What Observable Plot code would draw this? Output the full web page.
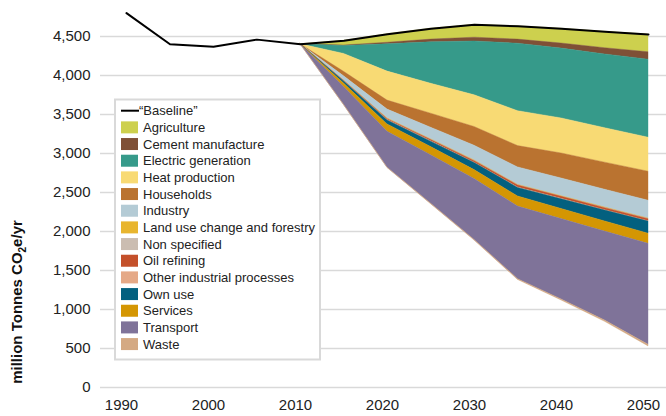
<!DOCTYPE html>
<html><head><meta charset="utf-8">
<script src="https://cdn.jsdelivr.net/npm/d3@7"></script>
<script src="https://cdn.jsdelivr.net/npm/@observablehq/plot@0.6"></script>
<style>body{margin:0;background:#fff;}#chart{position:relative;width:666px;height:416px;}</style>
</head><body><div id="chart"></div>
<script>
// ---- data ----
const baselineYears  = [1990, 1995, 2000, 2005, 2010, 2015, 2020, 2025, 2030, 2035, 2040, 2045, 2050];
const baselineValues = [4800, 4400, 4370, 4460, 4400, 4445, 4530, 4600, 4650, 4630, 4600, 4560, 4525];

const wedgeYears = [2010, 2015, 2020, 2025, 2030, 2035, 2040, 2045, 2050];
const sectors = ["Agriculture","Cement manufacture","Electric generation","Heat production","Households","Industry","Land use change and forestry","Non specified","Oil refining","Other industrial processes","Own use","Services","Transport","Waste"];
const sectorColors = ["#cdd04e","#7f5036","#369a8a","#f8da74","#ba7330","#b4cbd5","#e8b52e","#cbbdb1","#c4502a","#e5a987","#03607f","#d49603","#7f7399","#d4a983"];

const agriculture   = [0,  60, 110, 140, 165, 170, 190, 210, 227];
const cement        = [0,   8,  20,  35,  48,  52,  65,  80,  95];
const electric      = [0, 100, 350, 530, 690, 865, 895, 945, 1000];
const heat          = [0, 230, 372, 384, 407, 448, 449, 442, 436];
const households    = [0,  58, 115, 180, 240, 273, 321, 347, 372];
const industry      = [0,  55, 115, 150, 190, 225, 228, 229, 230];
const landUse       = [0,   2,   5,   5,   5,   5,   5,   5,   5];
const nonSpecified  = [0,   1,   3,   3,   3,   3,   3,   3,   3];
const oilRefining   = [0,   6,  12,  16,  20,  25,  25,  25,  25];
const otherIndustry = [0,   2,   5,   5,   5,   5,   5,   5,   5];
const ownUse        = [0,  25,  50,  70,  90, 110, 125, 140, 155];
const services      = [0,  45,  95, 105, 115, 130, 130, 130, 130];
const transport     = [0, 230, 460, 620, 780, 930, 1030, 1140, 1295];
const waste         = [0,   3,   5,   7,   8,  10,  13,  17,  20];

const sectorValues = [agriculture, cement, electric, heat, households, industry, landUse, nonSpecified, oilRefining, otherIndustry, ownUse, services, transport, waste];

const yTicks = [0, 500, 1000, 1500, 2000, 2500, 3000, 3500, 4000, 4500];
const xTicks = [1990, 2000, 2010, 2020, 2030, 2040, 2050];

// ---- build stacked bands hanging down from the baseline ----
const baseline = baselineYears.map((year, i) => ({year, value: baselineValues[i]}));
const rows = [];
wedgeYears.forEach((year, i) => {
  let top = baselineValues[baselineYears.indexOf(year)];
  sectors.forEach((sector, s) => {
    const v = sectorValues[s][i];
    rows.push({year, sector, y1: top - v, y2: top});
    top -= v;
  });
});

const font = "'Liberation Sans', Arial, Helvetica, sans-serif";

const chart = Plot.plot({
  width: 666,
  height: 416,
  marginLeft: 100,
  marginRight: 0,
  marginTop: 0,
  marginBottom: 29,
  style: {fontFamily: font, fontSize: "15px", color: "#222", background: "white"},
  x: {domain: [1990, 2050], range: [126, 648]},
  y: {domain: [0, 4500], range: [387, 36]},
  color: {domain: sectors, range: sectorColors},
  marks: [
    Plot.gridY(yTicks, {stroke: "#d9d9d9", strokeOpacity: 1, strokeWidth: 1.6}),
    Plot.areaY(rows, {x: "year", y1: "y1", y2: "y2", z: "sector", fill: "sector", stroke: "sector", strokeWidth: 0.4}),
    Plot.line(baseline, {x: "year", y: "value", stroke: "black", strokeWidth: 2}),
    Plot.axisY(yTicks, {tickSize: 0, tickPadding: 10, tickFormat: d3.format(","), fontSize: 15, label: null}),
    Plot.axisX(xTicks, {tickSize: 0, tickPadding: 12, tickFormat: d => String(d), fontSize: 15, dx: -5, label: null})
  ]
});
document.getElementById("chart").appendChild(chart);

const svg = d3.select(chart);
// y-axis title
const title = svg.append("text")
  .attr("transform", "translate(22,302) rotate(-90)")
  .attr("text-anchor", "middle")
  .attr("font-family", font)
  .attr("font-weight", "bold")
  .attr("font-size", 15)
  .attr("fill", "#111");
title.append("tspan").text("million Tonnes CO");
title.append("tspan").attr("font-size", 10).attr("dy", 4).text("2");
title.append("tspan").attr("dy", -4).text("e/yr");

// legend
const lg = svg.append("g").attr("font-family", font).attr("font-size", 13).attr("fill", "#222").attr("text-anchor", "start");
lg.append("rect").attr("x", 115).attr("y", 99.5).attr("width", 205).attr("height", 260)
  .attr("fill", "white").attr("stroke", "#d9d9d9").attr("stroke-width", 2);
const rowH = 16.67, firstY = 110.7;
lg.append("line").attr("x1", 121).attr("x2", 139).attr("y1", firstY).attr("y2", firstY)
  .attr("stroke", "black").attr("stroke-width", 2);
lg.append("text").attr("x", 139).attr("y", firstY).attr("dy", "0.35em").text("\u201CBaseline\u201D");
sectors.forEach((s, i) => {
  const cy = firstY + rowH * (i + 1);
  lg.append("rect").attr("x", 121).attr("y", cy - 6).attr("width", 17).attr("height", 12).attr("fill", sectorColors[i]);
  lg.append("text").attr("x", 143).attr("y", cy).attr("dy", "0.35em").text(s);
});
</script>
</body></html>
